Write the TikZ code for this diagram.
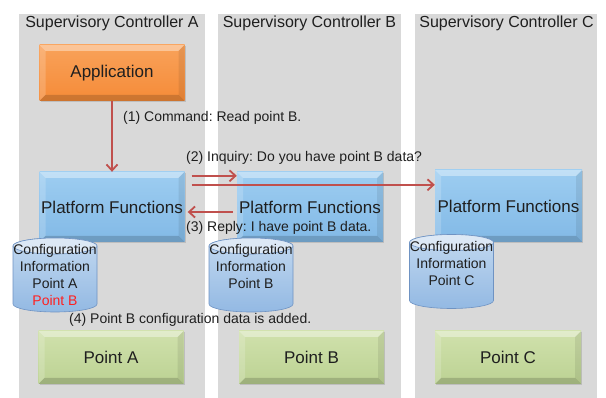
\documentclass[tikz,border=0pt]{standalone}
\usepackage{fontspec}
\setmainfont{Liberation Sans}
\usetikzlibrary{arrows.meta,shadows,calc}
\frenchspacing
\definecolor{panel}{HTML}{D9D9D9}
\definecolor{arrowred}{HTML}{C0504D}
\definecolor{txt}{HTML}{1F1F1F}
\definecolor{orgtop}{HTML}{F9A25A}
\definecolor{orgbot}{HTML}{F58B38}
\definecolor{blutop}{HTML}{9DCDF1}
\definecolor{blubot}{HTML}{82B9E6}
\definecolor{grntop}{HTML}{D0E1AC}
\definecolor{grnbot}{HTML}{BCD293}
\definecolor{cylend}{HTML}{DCE8F5}
\definecolor{cyltop}{HTML}{C3D9F0}
\definecolor{cylbot}{HTML}{93B9E3}
\definecolor{cylline}{HTML}{6F93C3}
\definecolor{ptred}{HTML}{FF2020}
\tikzset{
  panelbox/.style={rectangle, fill=panel, inner sep=0, anchor=north west},
  header/.style={font=\fontsize{16}{19}\selectfont, text=txt, anchor=north, inner sep=0},
  lbl/.style={font=\fontsize{14}{17}\selectfont, text=txt, anchor=west, inner sep=0},
  bevelbox/.style={rectangle, inner sep=0, font=\fontsize{17}{20}\selectfont, text=txt,
    drop shadow={shadow xshift=1pt, shadow yshift=-1.5pt, opacity=.3},
    path picture={
      \fill[white,opacity=.38] (path picture bounding box.north west) -- (path picture bounding box.north east)
        -- ([shift={(-6pt,-6pt)}]path picture bounding box.north east) -- ([shift={(6pt,-6pt)}]path picture bounding box.north west) -- cycle;
      \fill[white,opacity=.18] (path picture bounding box.north west) -- ([shift={(6pt,-6pt)}]path picture bounding box.north west)
        -- ([shift={(6pt,6pt)}]path picture bounding box.south west) -- (path picture bounding box.south west) -- cycle;
      \fill[black,opacity=.16] (path picture bounding box.south west) -- (path picture bounding box.south east)
        -- ([shift={(-6pt,6pt)}]path picture bounding box.south east) -- ([shift={(6pt,6pt)}]path picture bounding box.south west) -- cycle;
      \fill[black,opacity=.08] (path picture bounding box.north east) -- ([shift={(-6pt,-6pt)}]path picture bounding box.north east)
        -- ([shift={(-6pt,6pt)}]path picture bounding box.south east) -- (path picture bounding box.south east) -- cycle;
    }},
  appbox/.style={bevelbox, top color=orgtop, bottom color=orgbot},
  pfbox/.style={bevelbox, top color=blutop, bottom color=blubot},
  ptbox/.style={bevelbox, top color=grntop, bottom color=grnbot},
  cylbody/.style={top color=cyltop, bottom color=cylbot, draw=cylline, line width=0.6pt},
  cylcap/.style={fill=cylend, draw=cylline, line width=0.6pt},
  cyltext/.style={rectangle, inner sep=0, align=center, font=\fontsize{14}{17}\selectfont, text=txt},
  arr/.style={draw=arrowred, line width=1.8pt, -{Straight Barb[length=6pt,width=11pt,line width=1.8pt]}}
}
\newcommand\dbcyl[4]{%
  \path[cylbody] (#2-42,#3-29) -- (#2-42,#3+29) arc[start angle=180,end angle=360,x radius=42pt,y radius=8pt]
     -- (#2+42,#3-29) arc[start angle=0,end angle=180,x radius=42pt,y radius=8pt] -- cycle;
  \path[cylcap] (#2,#3-29) ellipse[x radius=42pt,y radius=8pt];
  \node[cyltext] (#1) at (#2,#3) {#4};
}
\begin{document}
\begin{tikzpicture}[x=1pt,y=-1pt]
\useasboundingbox (0,0) rectangle (606,398);
\fill[white] (0,0) rectangle (606,398);
% panels
\node[panelbox, minimum width=186pt, minimum height=384pt] (panA) at (19,14) {};
\node[panelbox, minimum width=183pt, minimum height=384pt] (panB) at (218,14) {};
\node[panelbox, minimum width=182pt, minimum height=384pt] (panC) at (415,14) {};
\node[header] (hA) at (112,16) {Supervisory Controller A};
\node[header] (hB) at (309.5,16) {Supervisory Controller B};
\node[header] (hC) at (506.5,16) {Supervisory Controller C};
% boxes
\node[appbox, minimum width=145pt, minimum height=56pt] (app) at (112,73) {Application};
\node[pfbox, minimum width=145pt, minimum height=70pt] (pfA) at (112,207) {Platform Functions};
\node[pfbox, minimum width=146pt, minimum height=70pt] (pfB) at (310,207) {Platform Functions};
\node[pfbox, minimum width=147pt, minimum height=72pt] (pfC) at (508.5,206) {Platform Functions};
\node[ptbox, minimum width=145pt, minimum height=53pt] (ptA) at (111,357.5) {Point A};
\node[ptbox, minimum width=145pt, minimum height=53pt] (ptB) at (311.5,357.5) {Point B};
\node[ptbox, minimum width=146pt, minimum height=53pt] (ptC) at (508,357.5) {Point C};
% cylinders
\dbcyl{cylA}{55}{275}{Configuration\\Information\\Point A\\\textcolor{ptred}{Point B}}
\dbcyl{cylB}{251}{275}{Configuration\\Information\\Point B\\\mbox{}}
\dbcyl{cylC}{451.5}{271.5}{Configuration\\Information\\Point C\\\mbox{}}
% arrows
\coordinate (s2a) at ([shift={(7pt,-4pt)}]pfA.north east);
\coordinate (s2b) at ([shift={(7pt,-13pt)}]pfA.north east);
\draw[arr] (app.south) -- (pfA.north);
\draw[arr] (s2a) -- (pfB.west |- s2a);
\draw[arr] (s2b) -- (pfC.west |- s2b);
\draw[arr] ([shift={(-4pt,-5pt)}]pfB.west) -- ([shift={(3pt,-5pt)}]pfA.east);
% labels
\node[lbl] (l1) at (123,118) {(1) Command: Read point B.};
\node[lbl] (l2) at (186,158) {(2) Inquiry: Do you have point B data?};
\node[lbl] (l3) at (186,228) {(3) Reply: I have point B data.};
\node[lbl] (l4) at (69,320) {(4) Point B configuration data is added.};
\end{tikzpicture}
\end{document}
